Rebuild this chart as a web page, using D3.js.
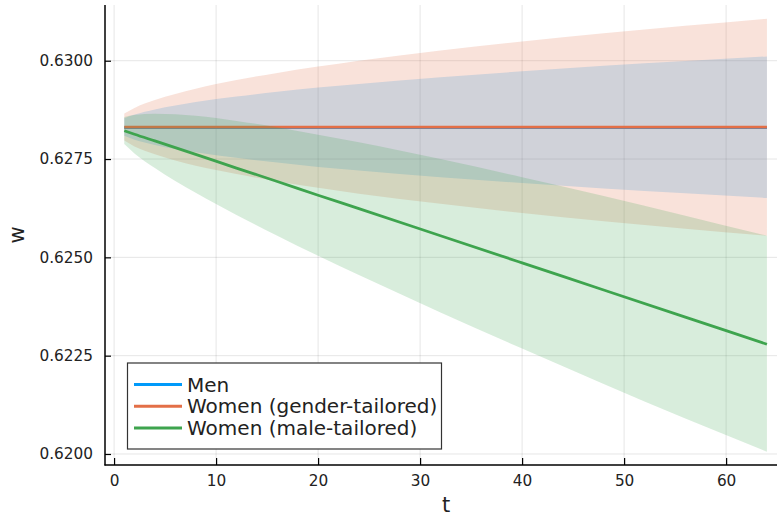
<!DOCTYPE html>
<html>
<head>
<meta charset="utf-8">
<script src="https://cdn.jsdelivr.net/npm/d3@7"></script>
<style>
  body { margin: 0; background: #fff; }
  text { font-family: "DejaVu Sans", sans-serif; }
</style>
</head>
<body>
<script>
// values at a few t
var tVals = [1, 2, 4, 8, 12, 16, 20, 24, 32, 40, 48, 56, 64];

var menMean  = [0.62830, 0.62830, 0.62830, 0.62830, 0.62830, 0.62830, 0.62830, 0.62830, 0.62830, 0.62830, 0.62830, 0.62830, 0.62830];
var menUpper = [0.62854, 0.62863, 0.62876, 0.62895, 0.62909, 0.62921, 0.62932, 0.62941, 0.62958, 0.62973, 0.62987, 0.62999, 0.63011];
var menLower = [0.62809, 0.62799, 0.62786, 0.62767, 0.62753, 0.62741, 0.62730, 0.62721, 0.62704, 0.62689, 0.62675, 0.62663, 0.62651];

var genMean  = [0.62831, 0.62831, 0.62831, 0.62831, 0.62831, 0.62831, 0.62831, 0.62831, 0.62831, 0.62831, 0.62831, 0.62831, 0.62831];
var genUpper = [0.62866, 0.62880, 0.62900, 0.62929, 0.62951, 0.62969, 0.62985, 0.63000, 0.63026, 0.63049, 0.63070, 0.63089, 0.63107];
var genLower = [0.62797, 0.62782, 0.62762, 0.62733, 0.62712, 0.62693, 0.62677, 0.62662, 0.62636, 0.62613, 0.62592, 0.62573, 0.62555];

var maleMean  = [0.62822, 0.62813, 0.62796, 0.62762, 0.62727, 0.62693, 0.62658, 0.62624, 0.62555, 0.62486, 0.62417, 0.62348, 0.62279];
var maleUpper = [0.62857, 0.62862, 0.62865, 0.62860, 0.62847, 0.62831, 0.62812, 0.62793, 0.62750, 0.62704, 0.62656, 0.62606, 0.62555];
var maleLower = [0.62788, 0.62764, 0.62727, 0.62664, 0.62608, 0.62555, 0.62504, 0.62455, 0.62360, 0.62268, 0.62178, 0.62090, 0.62006];

var seriesNames = ['Men', 'Women (gender-tailored)', 'Women (male-tailored)'];
var seriesColors = ['#009AFA', '#E36F47', '#3EA44E'];

var xTicks = [0, 10, 20, 30, 40, 50, 60];
var yTicks = [0.6200, 0.6225, 0.6250, 0.6275, 0.6300];

var width = 777;
var height = 517;

var svg = d3.select('body')
            .append('svg')
            .attr('width', width)
            .attr('height', height)

var x = d3.scaleLinear().domain([-0.89, 65.89]).range([105, 786.2]);
var y = d3.scaleLinear().domain([0.61972, 0.631417]).range([465, 5]);

// grid
var grid = svg.append('g')
grid.selectAll('line.gx')
    .data(xTicks)
    .enter()
    .append('line')
    .attr('x1', function(d) {return x(d);})
    .attr('x2', function(d) {return x(d);})
    .attr('y1', 5)
    .attr('y2', 465)
    .attr('stroke', '#000')
    .attr('stroke-opacity', 0.1)
grid.selectAll('line.gy')
    .data(yTicks)
    .enter()
    .append('line')
    .attr('x1', 105)
    .attr('x2', width)
    .attr('y1', function(d) {return y(d);})
    .attr('y2', function(d) {return y(d);})
    .attr('stroke', '#000')
    .attr('stroke-opacity', 0.1)

var series = [
  {mean: menMean, upper: menUpper, lower: menLower},
  {mean: genMean, upper: genUpper, lower: genLower},
  {mean: maleMean, upper: maleUpper, lower: maleLower}
];

var area = d3.area()
            .x(function(d,i) {return x(tVals[i]);})
            .y0(function(d) {return y(d[0]);})
            .y1(function(d) {return y(d[1]);})
            .curve(d3.curveMonotoneX);

var line = d3.line()
            .x(function(d,i) {return x(tVals[i]);})
            .y(function(d) {return y(d);})
            .curve(d3.curveMonotoneX);

for (var s = 0; s < series.length; s++) {
    var band = series[s].lower.map(function(v,i) {return [v, series[s].upper[i]];});
    svg.append('path')
        .attr('d', area(band))
        .attr('fill', seriesColors[s])
        .attr('fill-opacity', 0.2)
    svg.append('path')
        .attr('d', line(series[s].mean))
        .attr('fill', 'none')
        .attr('stroke', seriesColors[s])
        .attr('stroke-width', 2.8)
}

// axes
var xAxis = d3.axisBottom(x).tickValues(xTicks).tickSizeInner(-7).tickSizeOuter(0).tickPadding(10);
var yAxis = d3.axisLeft(y).tickValues(yTicks).tickSizeInner(-6).tickSizeOuter(0).tickPadding(12)
              .tickFormat(d3.format('.4f'));

var gx = svg.append('g').attr('transform', 'translate(0,465)').call(xAxis);
var gy = svg.append('g').attr('transform', 'translate(105,0)').call(yAxis);

[gx, gy].forEach(function(g) {
    g.select('.domain').remove();
    g.selectAll('.tick line').attr('stroke', '#000').attr('stroke-width', 1.2);
    g.selectAll('.tick text')
        .attr('fill', '#222')
        .style('font-size', '15.3px')
        .style('font-family', '"DejaVu Sans", sans-serif');
});

svg.append('line')
    .attr('x1', 105).attr('x2', 105).attr('y1', 5).attr('y2', 465.5)
    .attr('stroke', '#000').attr('stroke-width', 1.5)
svg.append('line')
    .attr('x1', 104.5).attr('x2', width).attr('y1', 465).attr('y2', 465)
    .attr('stroke', '#000').attr('stroke-width', 1.5)

// axis labels
svg.append('text')
    .attr('x', 446).attr('y', 512)
    .attr('text-anchor', 'middle')
    .style('font-size', '21px')
    .attr('fill', '#222')
    .text('t')
svg.append('text')
    .attr('transform', 'translate(24,235) rotate(-90)')
    .attr('text-anchor', 'middle')
    .style('font-size', '21px')
    .attr('fill', '#222')
    .text('w')

// legend
var leg = svg.append('g')
leg.append('rect')
    .attr('x', 127.5).attr('y', 363)
    .attr('width', 314).attr('height', 86)
    .attr('fill', '#fff')
    .attr('stroke', '#333')
    .attr('stroke-width', 1.2)

leg.selectAll('line.leg')
    .data(seriesNames)
    .enter()
    .append('line')
    .attr('x1', 134).attr('x2', 182)
    .attr('y1', function(d,i) {return 384.5 + i*21.7;})
    .attr('y2', function(d,i) {return 384.5 + i*21.7;})
    .attr('stroke', function(d,i) {return seriesColors[i];})
    .attr('stroke-width', 3)

leg.selectAll('text.leg')
    .data(seriesNames)
    .enter()
    .append('text')
    .attr('x', 187)
    .attr('y', function(d,i) {return 384.5 + i*21.7;})
    .attr('dy', '0.36em')
    .style('font-size', '20px')
    .attr('fill', '#222')
    .text(function(d) {return d;})
</script>
</body>
</html>
